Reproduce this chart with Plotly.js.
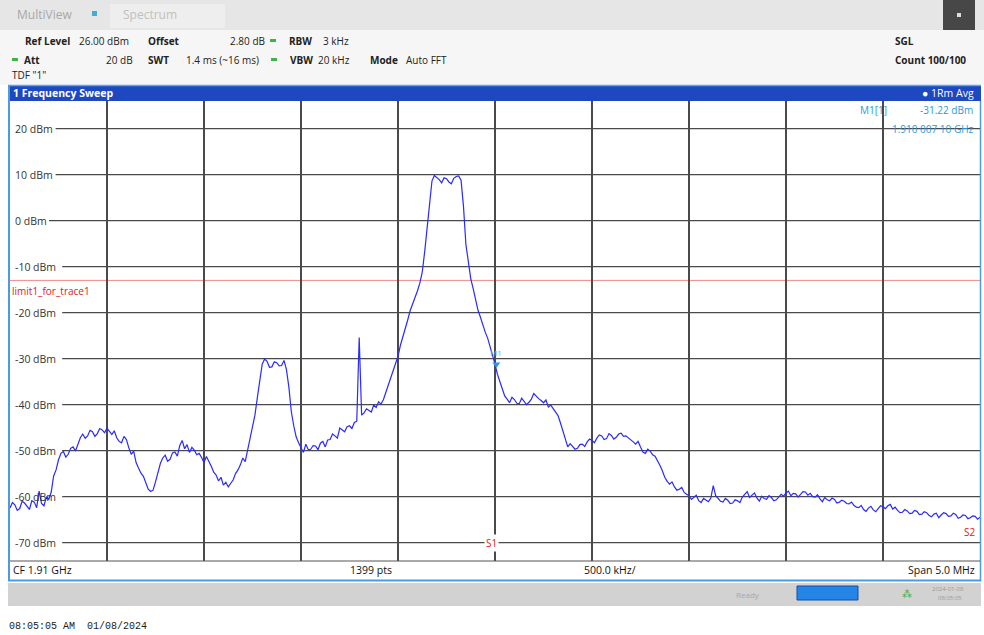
<!DOCTYPE html>
<html>
<head>
<meta charset="utf-8">
<script src="https://cdn.plot.ly/plotly-3.0.1.min.js"></script>
<style>
html,body{margin:0;padding:0;background:#ffffff;}
#chart{width:984px;height:635px;}
</style>
</head>
<body>
<div id="chart"></div>
<script>
// ---- Sweep settings ----
const startFreqMHz = 1907.5;
const stopFreqMHz = 1912.5;
const centerFreqMHz = 1910.0;
const stepMHz = 0.0125;
const yTickValues = [20, 10, 0, -10, -20, -30, -40, -50, -60, -70];
const refLevel = 26;
const bottomLevel = -74;
const limitLevel = -13;

// ---- Trace 1 (1Rm Avg), levels in dBm, one per step ----
const levels = [
  -62.5, -61.3, -61.8, -63.0, -62.6, -61.0, -61.4, -62.2, -62.8, -60.9,
  -61.2, -62.4, -58.8, -61.5, -62.0, -60.1, -60.6, -59.0, -55.5, -54.2,
  -52.0, -50.6, -50.2, -51.4, -50.8, -49.5, -49.2, -50.1, -48.6, -47.2,
  -46.4, -47.3, -46.8, -45.6, -45.9, -46.9, -46.3, -45.2, -45.5, -46.1,
  -45.1, -45.8, -46.5, -45.7, -47.2, -48.0, -48.3, -46.9, -47.6, -49.4,
  -50.8, -50.1, -52.6, -53.8, -54.9, -55.6, -57.2, -58.4, -58.9, -58.6,
  -56.8, -54.5, -52.8, -51.6, -51.0, -52.3, -51.9, -50.5, -50.3, -51.2,
  -48.9, -47.8, -49.6, -48.7, -50.4, -49.3, -49.9, -50.9, -50.6, -51.5,
  -52.6, -51.3, -52.2, -53.4, -54.7, -55.3, -56.6, -55.8, -57.5, -56.9,
  -57.9, -57.1, -56.4, -55.0, -54.2, -53.1, -51.6, -52.4, -49.8, -47.9,
  -45.2, -42.3, -38.5, -34.6, -31.2, -30.1, -30.6, -31.9, -31.8, -30.7,
  -30.9, -31.6, -31.5, -30.4, -32.4, -36.2, -41.5, -44.6, -47.0, -48.3,
  -49.3, -50.4, -48.6, -49.8, -49.7, -48.9, -49.0, -49.8, -48.4, -48.0,
  -49.2, -47.7, -47.6, -46.4, -46.8, -47.3, -45.1, -45.5, -45.9, -44.8,
  -44.6, -45.2, -43.9, -43.6, -25.4, -42.3, -41.8, -40.9, -41.2, -41.6,
  -40.1, -40.6, -39.4, -39.9, -38.9, -37.4, -35.8, -34.1, -32.6, -31.2,
  -29.5, -27.1, -25.4, -23.8, -21.6, -19.6, -18.2, -16.9, -15.3, -13.6,
  -11.2, -6.8, -1.5, 4.2, 8.6, 9.8, 9.4, 8.9, 8.2, 9.3,
  9.1, 8.4, 8.0, 9.2, 9.6, 9.7, 8.8, 3.1, -5.2, -9.4,
  -12.6, -14.8, -17.4, -19.5, -21.0, -22.9, -24.3, -25.6, -27.4, -29.5,
  -31.2, -33.4, -35.0, -36.8, -38.1, -38.8, -39.6, -38.4, -38.9, -39.7,
  -39.8, -38.6, -39.2, -40.0, -39.5, -38.8, -37.6, -38.2, -38.7, -39.1,
  -39.6, -39.0, -40.5, -40.1, -40.9, -41.8, -42.4, -44.0, -45.9, -47.8,
  -49.2, -48.5, -49.0, -49.7, -49.5, -48.7, -48.6, -49.1, -48.1, -47.5,
  -47.8, -48.3, -47.3, -46.6, -46.8, -47.6, -47.4, -46.3, -46.7, -47.5,
  -47.1, -46.4, -46.2, -46.9, -46.8, -47.2, -47.5, -48.1, -48.6, -48.0,
  -49.2, -50.3, -50.6, -49.7, -50.1, -50.9, -51.2, -52.1, -53.2, -54.4,
  -55.8, -56.7, -57.3, -56.8, -57.9, -58.6, -58.4, -58.0, -59.1, -59.5,
  -59.8, -60.6, -60.2, -59.7, -60.9, -61.3, -60.4, -60.8, -61.1, -60.3,
  -57.6, -59.8, -60.5, -61.0, -61.2, -60.4, -60.8, -61.5, -61.4, -60.7,
  -60.9, -61.3, -60.1, -59.4, -58.9, -60.2, -59.8, -59.2, -60.3, -61.0,
  -59.9, -60.4, -60.6, -59.8, -60.2, -60.9, -60.7, -60.0, -59.5, -59.9,
  -59.2, -58.8, -59.8, -59.3, -59.4, -60.1, -59.6, -58.9, -59.0, -59.7,
  -59.3, -60.0, -60.1, -59.6, -60.5, -61.1, -60.2, -60.7, -60.9, -60.3,
  -60.6, -61.4, -61.2, -60.8, -61.0, -61.5, -61.6, -61.2, -61.9, -62.3,
  -62.4, -61.9, -62.8, -63.2, -62.5, -62.1, -62.9, -63.3, -62.6, -62.0,
  -62.2, -62.6, -62.0, -61.7, -62.7, -62.3, -63.0, -63.5, -63.4, -62.8,
  -63.1, -63.7, -63.6, -63.0, -63.2, -63.9, -63.8, -63.3, -63.5, -64.1,
  -64.4, -63.8, -63.6, -64.6, -64.0, -63.5, -63.7, -64.3, -64.2, -63.6,
  -63.9, -64.7, -64.5, -64.0, -64.1, -64.8, -64.6, -64.2, -64.3, -64.9,
  -64.5
];
const freqs = levels.map((_, i) => startFreqMHz + i * stepMHz);

// ---- Marker ----
const markerFreqMHz = 1910.0071;
const markerLevel = -31.22;

// ---- pixel helpers for decoration placement (plot area 10..980 x 101..561) ----
const PX = x => (x - 10) / 970;
const PY = y => (561 - y) / 460;
const FONT = 'Open Sans, sans-serif';

const txt = (x, y, text, opts = {}) => Object.assign({
  xref: 'paper', yref: 'paper', x: PX(x), y: PY(y), text: text,
  showarrow: false, xanchor: 'left', yanchor: 'middle',
  font: {family: FONT, size: 10, color: '#222'}
}, opts);

const rect = (x0, y0, x1, y1, fill, line) => ({
  type: 'rect', xref: 'paper', yref: 'paper',
  x0: PX(x0), x1: PX(x1), y0: PY(y0), y1: PY(y1),
  fillcolor: fill, line: line || {width: 0}, layer: 'above'
});

const lineP = (x0, y0, x1, y1, color, width) => ({
  type: 'line', xref: 'paper', yref: 'paper',
  x0: PX(x0), x1: PX(x1), y0: PY(y0), y1: PY(y1),
  line: {color: color, width: width}, layer: 'above'
});

const traces = [
  {
    x: freqs, y: levels, type: 'scatter', mode: 'lines',
    line: {color: '#2a2aff', width: 1.2}, hoverinfo: 'skip', showlegend: false
  },
  {
    x: [markerFreqMHz], y: [markerLevel], type: 'scatter', mode: 'markers',
    marker: {symbol: 'triangle-down', size: 7, color: '#2a9ad8'},
    hoverinfo: 'skip', showlegend: false
  }
];

const shapes = [
  // header band and tabs
  rect(0, 30, 984, 85, '#f6f6f6'),
  rect(0, 0, 984, 30, '#e6e6e6'),
  rect(110, 4, 225, 28, '#eeeeee'),
  rect(943, 0, 975, 30, '#474747'),
  rect(957, 13, 961, 17, '#dddddd'),
  rect(92, 11, 97, 16, '#3ab0d8'),
  // green dashes
  rect(12, 58, 18, 61, '#3cb44a'),
  rect(270, 39, 276, 42, '#3cb44a'),
  rect(271, 58, 277, 61, '#3cb44a'),
  // title bar
  rect(8, 85, 981, 101, '#1d48c0'),
  lineP(8, 85.5, 981, 85.5, '#58a8f0', 1.5),
  // frame
  lineP(9, 85, 9, 581, '#4a9be0', 2),
  lineP(980.5, 101, 980.5, 581, '#4a9be0', 1.5),
  lineP(8, 580.5, 981, 580.5, '#4a9be0', 2),
  lineP(10, 561, 980, 561, '#555555', 1),
  // status bar
  rect(8, 583, 981, 606, '#d2d2d2'),
  rect(797, 586, 858, 600, '#2585e6', {color: '#0e4fa8', width: 1}),
  // limit line
  {type: 'line', xref: 'paper', yref: 'y', x0: 0, x1: 1, y0: limitLevel, y1: limitLevel,
   line: {color: '#f08a8a', width: 1}, layer: 'between'},
  // center line
  {type: 'line', xref: 'x', yref: 'paper', x0: centerFreqMHz, x1: centerFreqMHz, y0: 0, y1: 1,
   line: {color: '#e03030', width: 1}, layer: 'between'}
];

const annotations = [
  // tabs
  txt(15, 15, 'MultiView', {font: {family: FONT, size: 12, color: '#a8a8a8'}}),
  txt(121, 15, 'Spectrum', {font: {family: FONT, size: 12, color: '#c0c0c0'}}),
  // setting rows
  txt(23, 41, '<b>Ref Level</b>'),
  txt(77, 41, '26.00 dBm'),
  txt(146, 41, '<b>Offset</b>'),
  txt(228, 41, '2.80 dB'),
  txt(287, 41, '<b>RBW</b>'),
  txt(321, 41, '3 kHz'),
  txt(22, 60, '<b>Att</b>'),
  txt(104, 60, '20 dB'),
  txt(146, 60, '<b>SWT</b>'),
  txt(184, 60, '1.4 ms (~16 ms)'),
  txt(288, 60, '<b>VBW</b>'),
  txt(316, 60, '20 kHz'),
  txt(368, 60, '<b>Mode</b>'),
  txt(404, 60, 'Auto FFT'),
  txt(10, 75, 'TDF "1"'),
  txt(893, 41, '<b>SGL</b>'),
  txt(893, 60, '<b>Count 100/100</b>'),
  // title bar
  txt(11, 93, '<b>1 Frequency Sweep</b>', {font: {family: FONT, size: 10.5, color: '#ffffff'}}),
  txt(976, 93, '● 1Rm Avg', {xanchor: 'right', font: {family: FONT, size: 10.5, color: '#ffffff'}}),
  // marker readout
  txt(858, 110, 'M1[1]', {font: {family: FONT, size: 10, color: '#2a9ad8'}}),
  txt(975, 110, '-31.22 dBm', {xanchor: 'right', font: {family: FONT, size: 10, color: '#2a9ad8'}}),
  txt(976, 129, '1.910 007 10 GHz', {xanchor: 'right', font: {family: FONT, size: 10, color: '#2a9ad8'}}),
  {xref: 'x', yref: 'y', x: markerFreqMHz, y: markerLevel, text: 'M1', showarrow: false,
   yanchor: 'bottom', yshift: 4, font: {family: FONT, size: 8, color: '#5ab4ec'}},
  // limit label and display lines
  txt(10, 291, 'limit1_for_trace1', {font: {family: FONT, size: 10, color: '#e02020'}}),
  {xref: 'x', yref: 'y', x: centerFreqMHz, y: -70, text: 'S1', showarrow: false, xshift: -4,
   bgcolor: '#ffffff', font: {family: FONT, size: 10, color: '#e02020'}},
  txt(962, 532, 'S2', {font: {family: FONT, size: 10, color: '#e02020'}}),
  // footer
  txt(11, 570, 'CF 1.91 GHz', {font: {family: FONT, size: 10.5, color: '#111'}}),
  txt(348, 570, '1399 pts', {font: {family: FONT, size: 10.5, color: '#111'}}),
  txt(582, 570, '500.0 kHz/', {font: {family: FONT, size: 10.5, color: '#111'}}),
  txt(977, 570, 'Span 5.0 MHz', {xanchor: 'right', font: {family: FONT, size: 10.5, color: '#111'}}),
  // status bar
  txt(734, 594, 'Ready', {font: {family: FONT, size: 8, color: '#a8a8a8'}}),
  txt(900, 594, '⁂', {font: {family: 'DejaVu Sans, sans-serif', size: 10, color: '#38b040'}}),
  txt(930, 589, '2024-01-08', {font: {family: FONT, size: 6, color: '#9a9a9a'}}),
  txt(936, 598, '08:05:05', {font: {family: FONT, size: 6, color: '#9a9a9a'}}),
  // timestamp
  txt(7, 626, '08:05:05 AM  01/08/2024', {font: {family: 'Liberation Mono, monospace', size: 10, color: '#222'}})
];

// y-axis labels drawn inside the grid, with the grid line starting after the label
yTickValues.forEach(v => {
  const label = v + ' dBm';
  annotations.push({
    xref: 'paper', yref: 'y', x: PX(13), y: v, text: label, showarrow: false,
    xanchor: 'left', yanchor: 'middle',
    font: {family: FONT, size: 10.5, color: '#333'}
  });
  shapes.push({
    type: 'line', xref: 'paper', yref: 'y', x0: PX(16 + label.length * 6.6), x1: 1, y0: v, y1: v,
    line: {color: '#4a4a4a', width: 1.2}, layer: 'between'
  });
});

const layout = {
  width: 984, height: 635,
  margin: {l: 10, r: 4, t: 101, b: 74, pad: 0},
  paper_bgcolor: '#ffffff', plot_bgcolor: '#ffffff',
  showlegend: false,
  xaxis: {
    range: [startFreqMHz, stopFreqMHz], tick0: startFreqMHz, dtick: 0.5,
    showgrid: true, gridcolor: '#4a4a4a', gridwidth: 1.2,
    showticklabels: false, ticks: '', zeroline: false, showline: false, fixedrange: true
  },
  yaxis: {
    range: [bottomLevel, refLevel], tickvals: yTickValues,
    showgrid: false,
    showticklabels: false, ticks: '', zeroline: false, showline: false, fixedrange: true
  },
  shapes: shapes,
  annotations: annotations
};

Plotly.newPlot('chart', traces, layout, {displayModeBar: false, staticPlot: true});
</script>
</body>
</html>
